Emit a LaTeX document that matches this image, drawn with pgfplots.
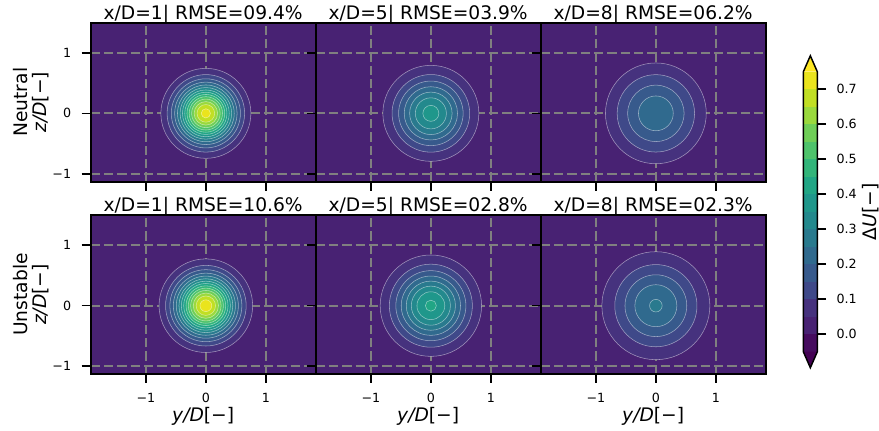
\documentclass[border=0pt]{standalone}
\usepackage{fontspec}
\setmainfont{DejaVu Sans}
\usepackage{pgfplots}
\pgfplotsset{compat=1.18}

\definecolor{vunder}{HTML}{440154}
\definecolor{vover}{HTML}{FDE725}
\definecolor{vb0}{HTML}{460C5F}
\definecolor{vb1}{HTML}{482273}
\definecolor{vb2}{HTML}{46327E}
\definecolor{vb3}{HTML}{3F4989}
\definecolor{vb4}{HTML}{375A8C}
\definecolor{vb5}{HTML}{306A8E}
\definecolor{vb6}{HTML}{297A8E}
\definecolor{vb7}{HTML}{23898D}
\definecolor{vb8}{HTML}{1F978B}
\definecolor{vb9}{HTML}{21A685}
\definecolor{vb10}{HTML}{32B57A}
\definecolor{vb11}{HTML}{4EC36B}
\definecolor{vb12}{HTML}{6FCE57}
\definecolor{vb13}{HTML}{9AD93D}
\definecolor{vb14}{HTML}{C1DF24}
\definecolor{vb15}{HTML}{EAE41D}

\pgfplotsset{
  panel/.style={
    scale only axis, width=168.75pt, height=119.25pt,
    xmin=-1.92, xmax=1.83, ymin=-1.13, ymax=1.5,
    anchor=north west,
    axis background/.style={fill=vb1},
    axis on top,
    xtick={-1,0,1}, ytick={-1,0,1},
    xtick pos=left, ytick pos=left,
    tick align=outside, major tick length=6.75pt,
    every tick/.append style={black, line width=1.1pt},
    grid=major,
    major grid style={color=gray, dash pattern=on 7pt off 3pt, line width=1.5pt},
    axis line style={line width=1.5pt},
    tick label style={font=\fontsize{9.5}{11}\selectfont},
    xticklabels={}, yticklabels={},
    every axis title/.style={font=\fontsize{14}{16}\selectfont, at={(axis description cs:0.5,1)}, anchor=base, yshift=2.6pt, inner sep=0pt},
    every axis x label/.style={at={(axis description cs:0.5,0)}, anchor=base, yshift=-35.5pt, font=\fontsize{14}{16}\selectfont, inner sep=0pt},
    every axis y label/.style={at={(axis description cs:-0.185,0.5)}, rotate=90, anchor=south, align=center, font=\fontsize{14}{14}\selectfont, inner sep=0pt},
    xticklabel style={yshift=-4.4pt}, yticklabel style={xshift=-4.4pt},
  },
  discs/.style={scatter, only marks, mark=*,
    visualization depends on={\thisrow{r} \as \rad},
    visualization depends on={value \thisrow{k} \as \kk},
    scatter/@pre marker code/.code={\scope[mark size=45*\rad, fill=vb\kk, draw=white, draw opacity=0.5, line width=0.4pt]},
    scatter/@post marker code/.code={\endscope},
  },
}

\begin{document}
\begin{tikzpicture}
\useasboundingbox (0,0) rectangle (659.25pt,-323.25pt);

% ---------- Row 1: Neutral ----------
\begin{axis}[panel, at={(68pt,-17pt)}, title={x/D=1| RMSE=09.4\%},
  yticklabels={−1,0,1}, ylabel={Neutral\\{\itshape z/D}[−]}]
\addplot[discs] table {
x y k r
0 0 2 0.750
0 0 3 0.646
0 0 4 0.576
0 0 5 0.520
0 0 6 0.473
0 0 7 0.430
0 0 8 0.390
0 0 9 0.352
0 0 10 0.315
0 0 11 0.278
0 0 12 0.238
0 0 13 0.196
0 0 14 0.147
0 0 15 0.077
};
\end{axis}

\begin{axis}[panel, at={(236.75pt,-17pt)}, title={x/D=5| RMSE=03.9\%}]
\addplot[discs] table {
x y k r
0 0 2 0.800
0 0 3 0.647
0 0 4 0.538
0 0 5 0.444
0 0 6 0.354
0 0 7 0.259
0 0 8 0.133
};
\end{axis}

\begin{axis}[panel, at={(405.5pt,-17pt)}, title={x/D=8| RMSE=06.2\%}]
\addplot[discs] table {
x y k r
0 0 2 0.840
0 0 3 0.645
0 0 4 0.470
0 0 5 0.290
};
\end{axis}

% ---------- Row 2: Unstable ----------
\begin{axis}[panel, at={(68pt,-161.25pt)}, title={x/D=1| RMSE=10.6\%},
  yticklabels={−1,0,1}, xticklabels={−1,0,1},
  ylabel={Unstable\\{\itshape z/D}[−]}, xlabel={{\itshape y/D}[−]}]
\addplot[discs] table {
x y k r
0 0 2 0.780
0 0 3 0.672
0 0 4 0.600
0 0 5 0.542
0 0 6 0.493
0 0 7 0.449
0 0 8 0.409
0 0 9 0.370
0 0 10 0.331
0 0 11 0.293
0 0 12 0.254
0 0 13 0.211
0 0 14 0.162
0 0 15 0.098
};
\end{axis}

\begin{axis}[panel, at={(236.75pt,-161.25pt)}, title={x/D=5| RMSE=02.8\%},
  xticklabels={−1,0,1}, xlabel={{\itshape y/D}[−]}]
\addplot[discs] table {
x y k r
0 0 2 0.845
0 0 3 0.692
0 0 4 0.584
0 0 5 0.494
0 0 6 0.410
0 0 7 0.326
0 0 8 0.232
0 0 9 0.092
};
\end{axis}

\begin{axis}[panel, at={(405.5pt,-161.25pt)}, title={x/D=8| RMSE=02.3\%},
  xticklabels={−1,0,1}, xlabel={{\itshape y/D}[−]}]
\addplot[discs] table {
x y k r
0 0 2 0.900
0 0 3 0.685
0 0 4 0.515
0 0 5 0.350
0 0 6 0.105
};
\end{axis}

% ---------- Colorbar ----------
\begin{axis}[at={(602.5pt,-53.8pt)}, anchor=north west, scale only axis,
  width=10.5pt, height=210pt,
  xmin=0, xmax=1, ymin=-0.05, ymax=0.75, clip=false,
  axis line style={draw=none},
  xtick=\empty, ytick={0,0.1,0.2,0.3,0.4,0.5,0.6,0.7},
  yticklabels={0.0,0.1,0.2,0.3,0.4,0.5,0.6,0.7},
  ytick pos=right, yticklabel pos=right, tick align=outside, major tick length=6.5pt,
  every tick/.append style={black, line width=1.1pt},
  tick label style={font=\fontsize{9.5}{11}\selectfont},
  yticklabel style={xshift=4.4pt},
  ylabel={Δ{\itshape U}[−]},
  every axis y label/.style={at={(axis description cs:4.19,0.5)}, rotate=90, anchor=north, font=\fontsize{14}{16}\selectfont, inner sep=0pt},
]
\addplot[fill=vb0, draw=none] coordinates {(0,-0.05) (1,-0.05) (1,0.00) (0,0.00)};
\addplot[fill=vb1, draw=none] coordinates {(0,0.00) (1,0.00) (1,0.05) (0,0.05)};
\addplot[fill=vb2, draw=none] coordinates {(0,0.05) (1,0.05) (1,0.10) (0,0.10)};
\addplot[fill=vb3, draw=none] coordinates {(0,0.10) (1,0.10) (1,0.15) (0,0.15)};
\addplot[fill=vb4, draw=none] coordinates {(0,0.15) (1,0.15) (1,0.20) (0,0.20)};
\addplot[fill=vb5, draw=none] coordinates {(0,0.20) (1,0.20) (1,0.25) (0,0.25)};
\addplot[fill=vb6, draw=none] coordinates {(0,0.25) (1,0.25) (1,0.30) (0,0.30)};
\addplot[fill=vb7, draw=none] coordinates {(0,0.30) (1,0.30) (1,0.35) (0,0.35)};
\addplot[fill=vb8, draw=none] coordinates {(0,0.35) (1,0.35) (1,0.40) (0,0.40)};
\addplot[fill=vb9, draw=none] coordinates {(0,0.40) (1,0.40) (1,0.45) (0,0.45)};
\addplot[fill=vb10, draw=none] coordinates {(0,0.45) (1,0.45) (1,0.50) (0,0.50)};
\addplot[fill=vb11, draw=none] coordinates {(0,0.50) (1,0.50) (1,0.55) (0,0.55)};
\addplot[fill=vb12, draw=none] coordinates {(0,0.55) (1,0.55) (1,0.60) (0,0.60)};
\addplot[fill=vb13, draw=none] coordinates {(0,0.60) (1,0.60) (1,0.65) (0,0.65)};
\addplot[fill=vb14, draw=none] coordinates {(0,0.65) (1,0.65) (1,0.70) (0,0.70)};
\addplot[fill=vb15, draw=none] coordinates {(0,0.70) (1,0.70) (1,0.75) (0,0.75)};
\addplot[fill=vunder, draw=none] coordinates {(0,-0.05) (0.5,-0.0957) (1,-0.05)};
\addplot[fill=vover, draw=none] coordinates {(0,0.75) (0.5,0.7957) (1,0.75)};
\addplot[draw=black, line width=1.1pt] coordinates {(0,0.75) (0.5,0.7957) (1,0.75) (1,-0.05) (0.5,-0.0957) (0,-0.05) (0,0.75)};
\end{axis}
\end{tikzpicture}
\end{document}
